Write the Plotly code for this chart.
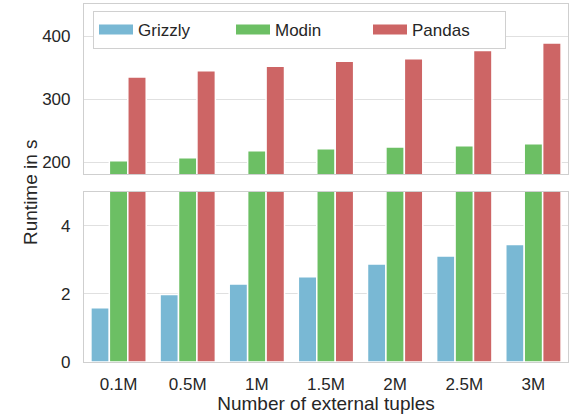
import plotly.graph_objects as go
from plotly.subplots import make_subplots

categories = ["0.1M", "0.5M", "1M", "1.5M", "2M", "2.5M", "3M"]
grizzly = [1.59, 1.98, 2.29, 2.50, 2.88, 3.11, 3.45]
modin = [202, 207, 218, 221, 224, 226, 229]
pandas_ = [335, 345, 352, 360, 364, 377, 389]

series = [("Grizzly", grizzly, "#79b8d4"), ("Modin", modin, "#6cbf64"), ("Pandas", pandas_, "#cd6565")]

FONT = "Liberation Sans, Arial, sans-serif"
TXT = "#262626"
W, H = 574, 415
ml, mr, mt, mb = 84, 6, 4, 53
ph = H - mt - mb

def py(px):
    return (H - mb - px) / ph

fig = make_subplots(rows=2, cols=1, shared_xaxes=True)
for name, vals, col in series:
    for r in (1, 2):
        fig.add_trace(go.Bar(x=categories, y=vals, name=name, marker=dict(color=col, line=dict(color="white", width=1.5)),
                             showlegend=False), row=r, col=1)
    fig.add_trace(go.Scatter(x=[None], y=[None], mode="lines", name=name, line=dict(color=col, width=12),
                             showlegend=True), row=1, col=1)

axcommon = dict(showline=True, mirror=True, linecolor="#cfcfcf", linewidth=1.2, gridcolor="#e0e0e0", gridwidth=1,
                zeroline=False, automargin=False, tickfont=dict(family=FONT, size=17, color=TXT))
fig.update_layout(
    width=W, height=H, margin=dict(l=ml, r=mr, t=mt, b=mb, autoexpand=False),
    plot_bgcolor="white", paper_bgcolor="white",
    barmode="group", bargap=0.2, bargroupgap=0,
    font=dict(family=FONT, color=TXT),
    xaxis=dict(**axcommon, showgrid=False, showticklabels=False, domain=[0, 1]),
    xaxis2=dict(**axcommon, showgrid=False, ticklabelstandoff=6,
                title=dict(text="Number of external tuples", font=dict(family=FONT, size=19, color=TXT), standoff=1)),
    yaxis=dict(**axcommon, range=[181, 451], tickvals=[200, 300, 400], domain=[py(174), 1.0], ticklabelstandoff=9),
    yaxis2=dict(**axcommon, range=[0, 5], tickvals=[0, 2, 4], domain=[0, py(191.7)], ticklabelstandoff=9),
    legend=dict(orientation="h", x=(93 - ml) / (W - ml - mr), y=py(11), xanchor="left", yanchor="top",
                bgcolor="white", bordercolor="#d0d0d0", borderwidth=1,
                font=dict(family=FONT, size=17, color=TXT), entrywidth=88, entrywidthmode="pixels",
                itemwidth=34),
)
fig.add_annotation(text="Runtime in s", textangle=-90, xref="paper", yref="paper",
                   x=(30 - ml) / (W - ml - mr), y=py(192), xanchor="center", yanchor="middle", showarrow=False,
                   font=dict(family=FONT, size=19, color=TXT))
fig.write_html("out.html", config={"displayModeBar": False},
               post_script="document.body.style.margin='0px';document.body.style.overflow='hidden';")
